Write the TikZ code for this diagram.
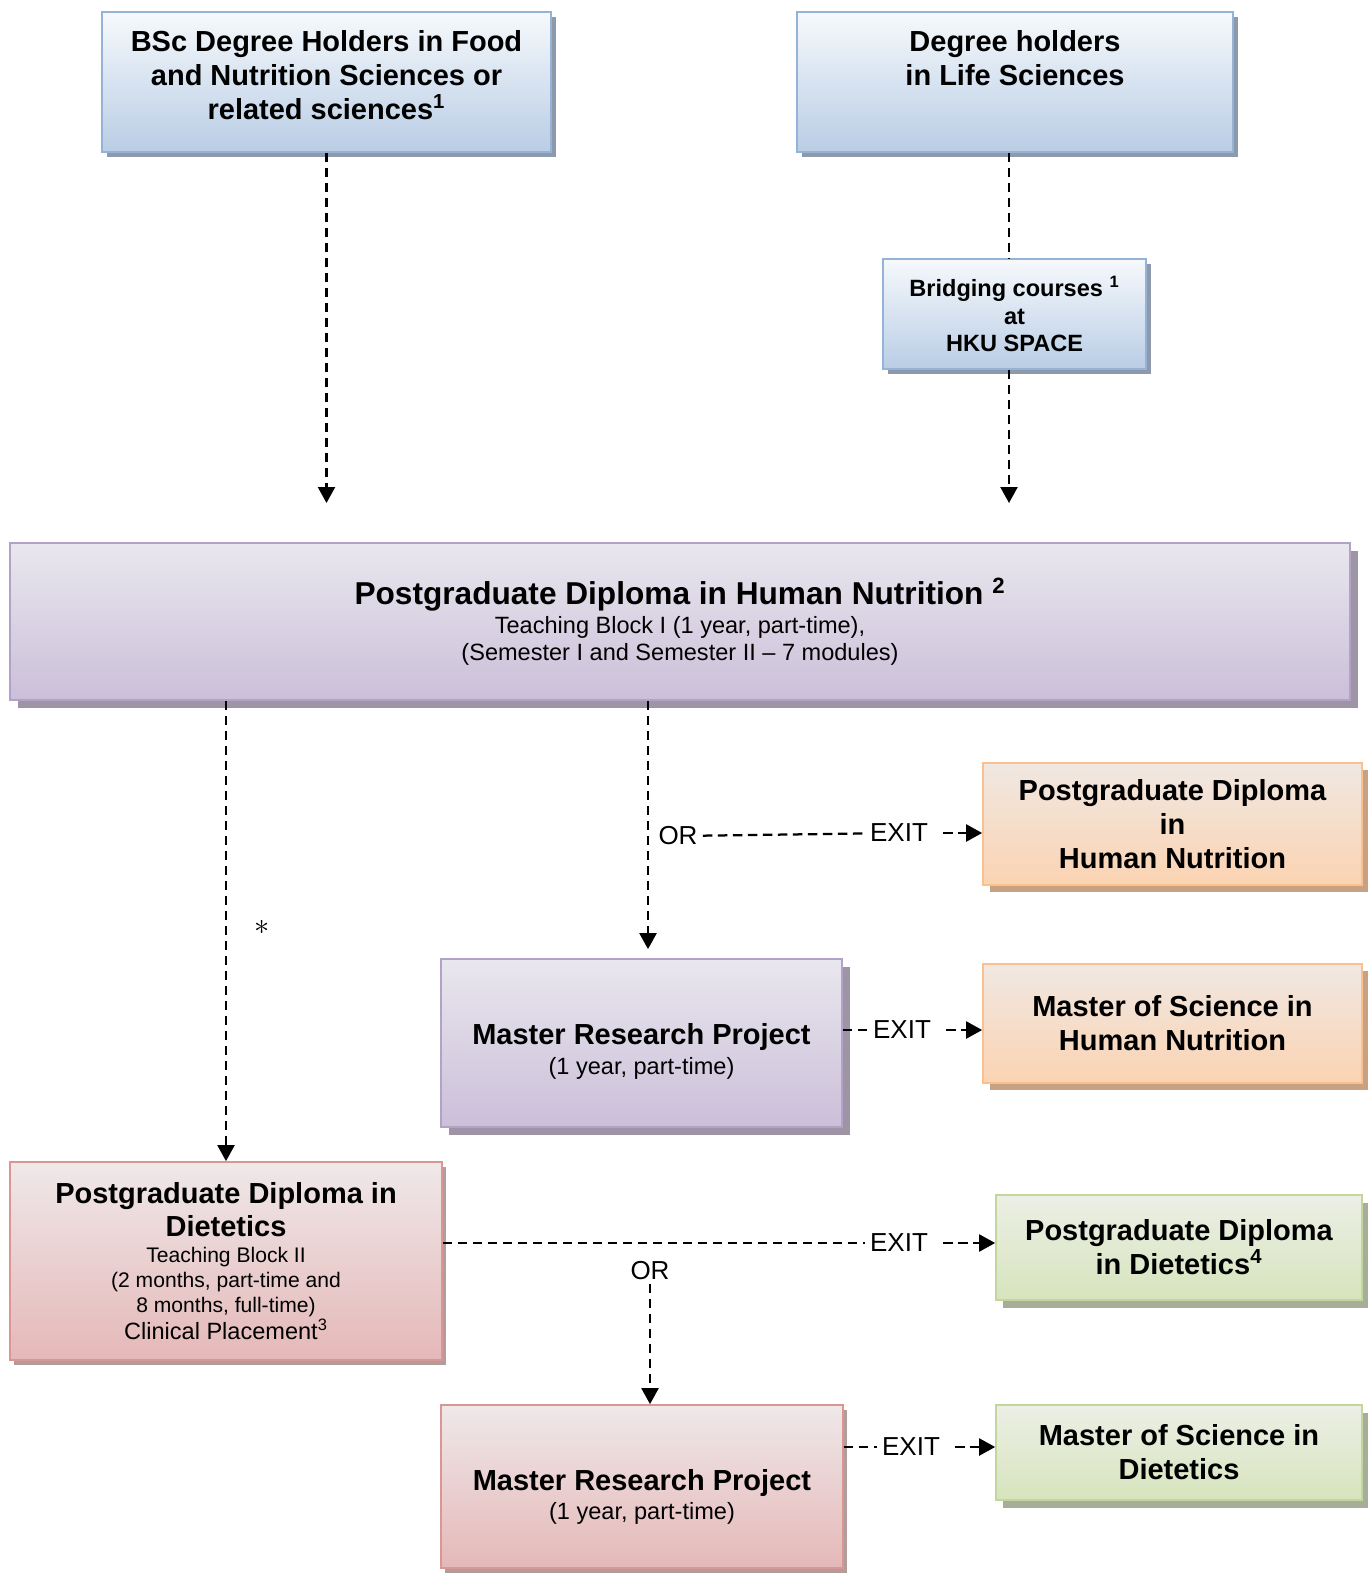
\documentclass[tikz,border=0pt]{standalone}
\usepackage{fontspec}
\setmainfont{Liberation Sans}
\usetikzlibrary{arrows.meta,shadows}

\definecolor{blueTop}{HTML}{F6F9FC}
\definecolor{blueBot}{HTML}{B9CDE5}
\definecolor{blueLine}{HTML}{95B3D7}
\definecolor{blueShade}{HTML}{8E9AAC}
\definecolor{lilaTop}{HTML}{E9E7EE}
\definecolor{lilaBot}{HTML}{CBBFD9}
\definecolor{lilaLine}{HTML}{B3A2C7}
\definecolor{lilaShade}{HTML}{9D95A6}
\definecolor{peachTop}{HTML}{F0E8E2}
\definecolor{peachBot}{HTML}{FBD3B2}
\definecolor{peachLine}{HTML}{FAC090}
\definecolor{peachShade}{HTML}{C8A183}
\definecolor{roseTop}{HTML}{EFE8E9}
\definecolor{roseBot}{HTML}{E5B8B8}
\definecolor{roseLine}{HTML}{D99694}
\definecolor{roseShade}{HTML}{B39C9C}
\definecolor{sageTop}{HTML}{ECEFE6}
\definecolor{sageBot}{HTML}{D7E4BD}
\definecolor{sageLine}{HTML}{C3D69B}
\definecolor{sageShade}{HTML}{A6AD98}

\newcommand{\headfont}{\fontsize{16.5}{19.4}\selectfont\bfseries}
\newcommand{\bighead}{\fontsize{18}{19}\selectfont\bfseries}
\newcommand{\bodyfont}{\fontsize{13.4}{15.4}\selectfont\mdseries}
\newcommand{\smallbody}{\fontsize{12}{14.2}\selectfont\mdseries}
\newcommand{\bridgefont}{\fontsize{13.4}{15.6}\selectfont\bfseries}

\begin{document}
\begin{tikzpicture}[x=0.02cm,y=-0.02cm]
    \tikzstyle{every node}+=[inner sep=0pt, align=center]
    \tikzstyle{box}=[draw, line width=0.035cm]
    \tikzstyle{bluebox}=[box, draw=blueLine, top color=blueTop, bottom color=blueBot,
        drop shadow={shadow xshift=0.1cm, shadow yshift=-0.1cm, fill=blueShade, opacity=1}]
    \tikzstyle{lilabox}=[box, draw=lilaLine, top color=lilaTop, bottom color=lilaBot,
        drop shadow={shadow xshift=0.16cm, shadow yshift=-0.16cm, fill=lilaShade, opacity=1}]
    \tikzstyle{peachbox}=[box, draw=peachLine, top color=peachTop, bottom color=peachBot,
        drop shadow={shadow xshift=0.14cm, shadow yshift=-0.14cm, fill=peachShade, opacity=1}]
    \tikzstyle{rosebox}=[box, draw=roseLine, top color=roseTop, bottom color=roseBot,
        drop shadow={shadow xshift=0.08cm, shadow yshift=-0.1cm, fill=roseShade, opacity=1}]
    \tikzstyle{sagebox}=[box, draw=sageLine, top color=sageTop, bottom color=sageBot,
        drop shadow={shadow xshift=0.14cm, shadow yshift=-0.16cm, fill=sageShade, opacity=1}]
    \tikzstyle{lbl}=[font=\fontsize{14.8}{16}\selectfont, inner xsep=0.1cm, inner ysep=0.06cm]
    \tikzstyle{dashline}=[line width=0.045cm, dash pattern=on 0.19cm off 0.11cm]
    \tikzstyle{flow}=[dashline, -{Triangle[length=0.32cm, width=0.34cm]}]
    \useasboundingbox (0,0) rectangle (1368,1575);

    \node (bsc) at (326.5,82) [bluebox, minimum width=8.98cm, minimum height=2.8cm, font=\headfont]
        {BSc Degree Holders in Food\\and Nutrition Sciences or\\related sciences\textsuperscript{1}\\[-11.4pt]\mbox{}};
    \node (life) at (1015,82) [bluebox, minimum width=8.72cm, minimum height=2.8cm, font=\headfont]
        {Degree holders\\in Life Sciences\\[8pt]\mbox{}};
    \node (bridge) at (1014.5,314) [bluebox, minimum width=5.26cm, minimum height=2.2cm, font=\bridgefont]
        {Bridging courses \textsuperscript{1}\\at\\HKU SPACE};

    \node (pgdhn) at (680,621.5) [lilabox, minimum width=26.8cm, minimum height=3.14cm, font=\bodyfont]
        {\bighead Postgraduate Diploma in Human Nutrition \textsuperscript{2}\\[1pt]\bodyfont Teaching Block I (1 year, part-time),\\(Semester I and Semester II -- 7 modules)};
    \node (exhn) at (1172.5,824) [peachbox, minimum width=7.58cm, minimum height=2.44cm, font=\headfont]
        {Postgraduate Diploma\\in\\Human Nutrition};
    \node (mrphn) at (641.5,1043) [lilabox, minimum width=8.02cm, minimum height=3.36cm, font=\bodyfont]
        {\mbox{}\\[6pt]\headfont Master Research Project\\[2pt]\bodyfont (1 year, part-time)};
    \node (mschn) at (1172.5,1023.5) [peachbox, minimum width=7.58cm, minimum height=2.38cm, font=\headfont]
        {Master of Science in\\Human Nutrition};

    \node (pgdd) at (226,1261) [rosebox, minimum width=8.64cm, minimum height=3.96cm, font=\smallbody]
        {\headfont Postgraduate Diploma in\\[2.5pt]\headfont Dietetics\\[0.5pt]\smallbody Teaching Block II\\(2 months, part-time and\\8 months, full-time)\\\bodyfont Clinical Placement\textsuperscript{3}};
    \node (exd) at (1179,1247.5) [sagebox, minimum width=7.32cm, minimum height=2.1cm, font=\headfont]
        {Postgraduate Diploma\\in Dietetics\textsuperscript{4}};
    \node (mrpd) at (642,1486.5) [rosebox, minimum width=8.04cm, minimum height=3.26cm, font=\bodyfont]
        {\mbox{}\\[8pt]\headfont Master Research Project\\[1pt]\bodyfont (1 year, part-time)};
    \node (mscd) at (1179,1452.5) [sagebox, minimum width=7.32cm, minimum height=1.9cm, font=\headfont]
        {Master of Science in\\Dietetics};

    \coordinate (entry) at (0,503);
    \coordinate (colA) at (226,0);
    \coordinate (colB) at (648,0);
    \coordinate (colR) at (1009,0);

    \draw [flow] (bsc.south) -- (bsc.south |- entry);
    \draw [dashline] (life.south -| colR) -- (bridge.north -| colR);
    \draw [flow] (bridge.south -| colR) -- (entry -| colR);

    \draw [flow] (pgdhn.south -| colA) -- (pgdd.north -| colA);
    \node (star) at (262,927) [font=\fontsize{16}{16}\selectfont] {$\ast$};
    \draw [flow, shorten >=0.18cm] (pgdhn.south -| colB) -- (mrphn.north -| colB);

    \node (or1) at (678,836) [lbl] {OR};
    \node (exit1) at (899,833) [lbl] {EXIT};
    \draw [dashline] (or1) -- (exit1);
    \draw [flow, shorten <=0.2cm] (exit1) -- (exhn.west |- exit1);

    \node (exit2) at (902,1030) [lbl] {EXIT};
    \draw [dashline] (mrphn.east |- exit2) -- (exit2);
    \draw [flow, shorten <=0.2cm] (exit2) -- (mschn.west |- exit2);

    \node (exit3) at (899,1243) [lbl] {EXIT};
    \draw [dashline] (pgdd.east |- exit3) -- (exit3);
    \draw [flow, shorten <=0.2cm] (exit3) -- (exd.west |- exit3);
    \node (or2) at (650,1271) [lbl] {OR};
    \draw [flow] (or2) -- (mrpd.north -| or2);

    \node (exit4) at (911,1447) [lbl] {EXIT};
    \draw [dashline] (mrpd.east |- exit4) -- (exit4);
    \draw [flow, shorten <=0.2cm] (exit4) -- (mscd.west |- exit4);
\end{tikzpicture}
\end{document}
